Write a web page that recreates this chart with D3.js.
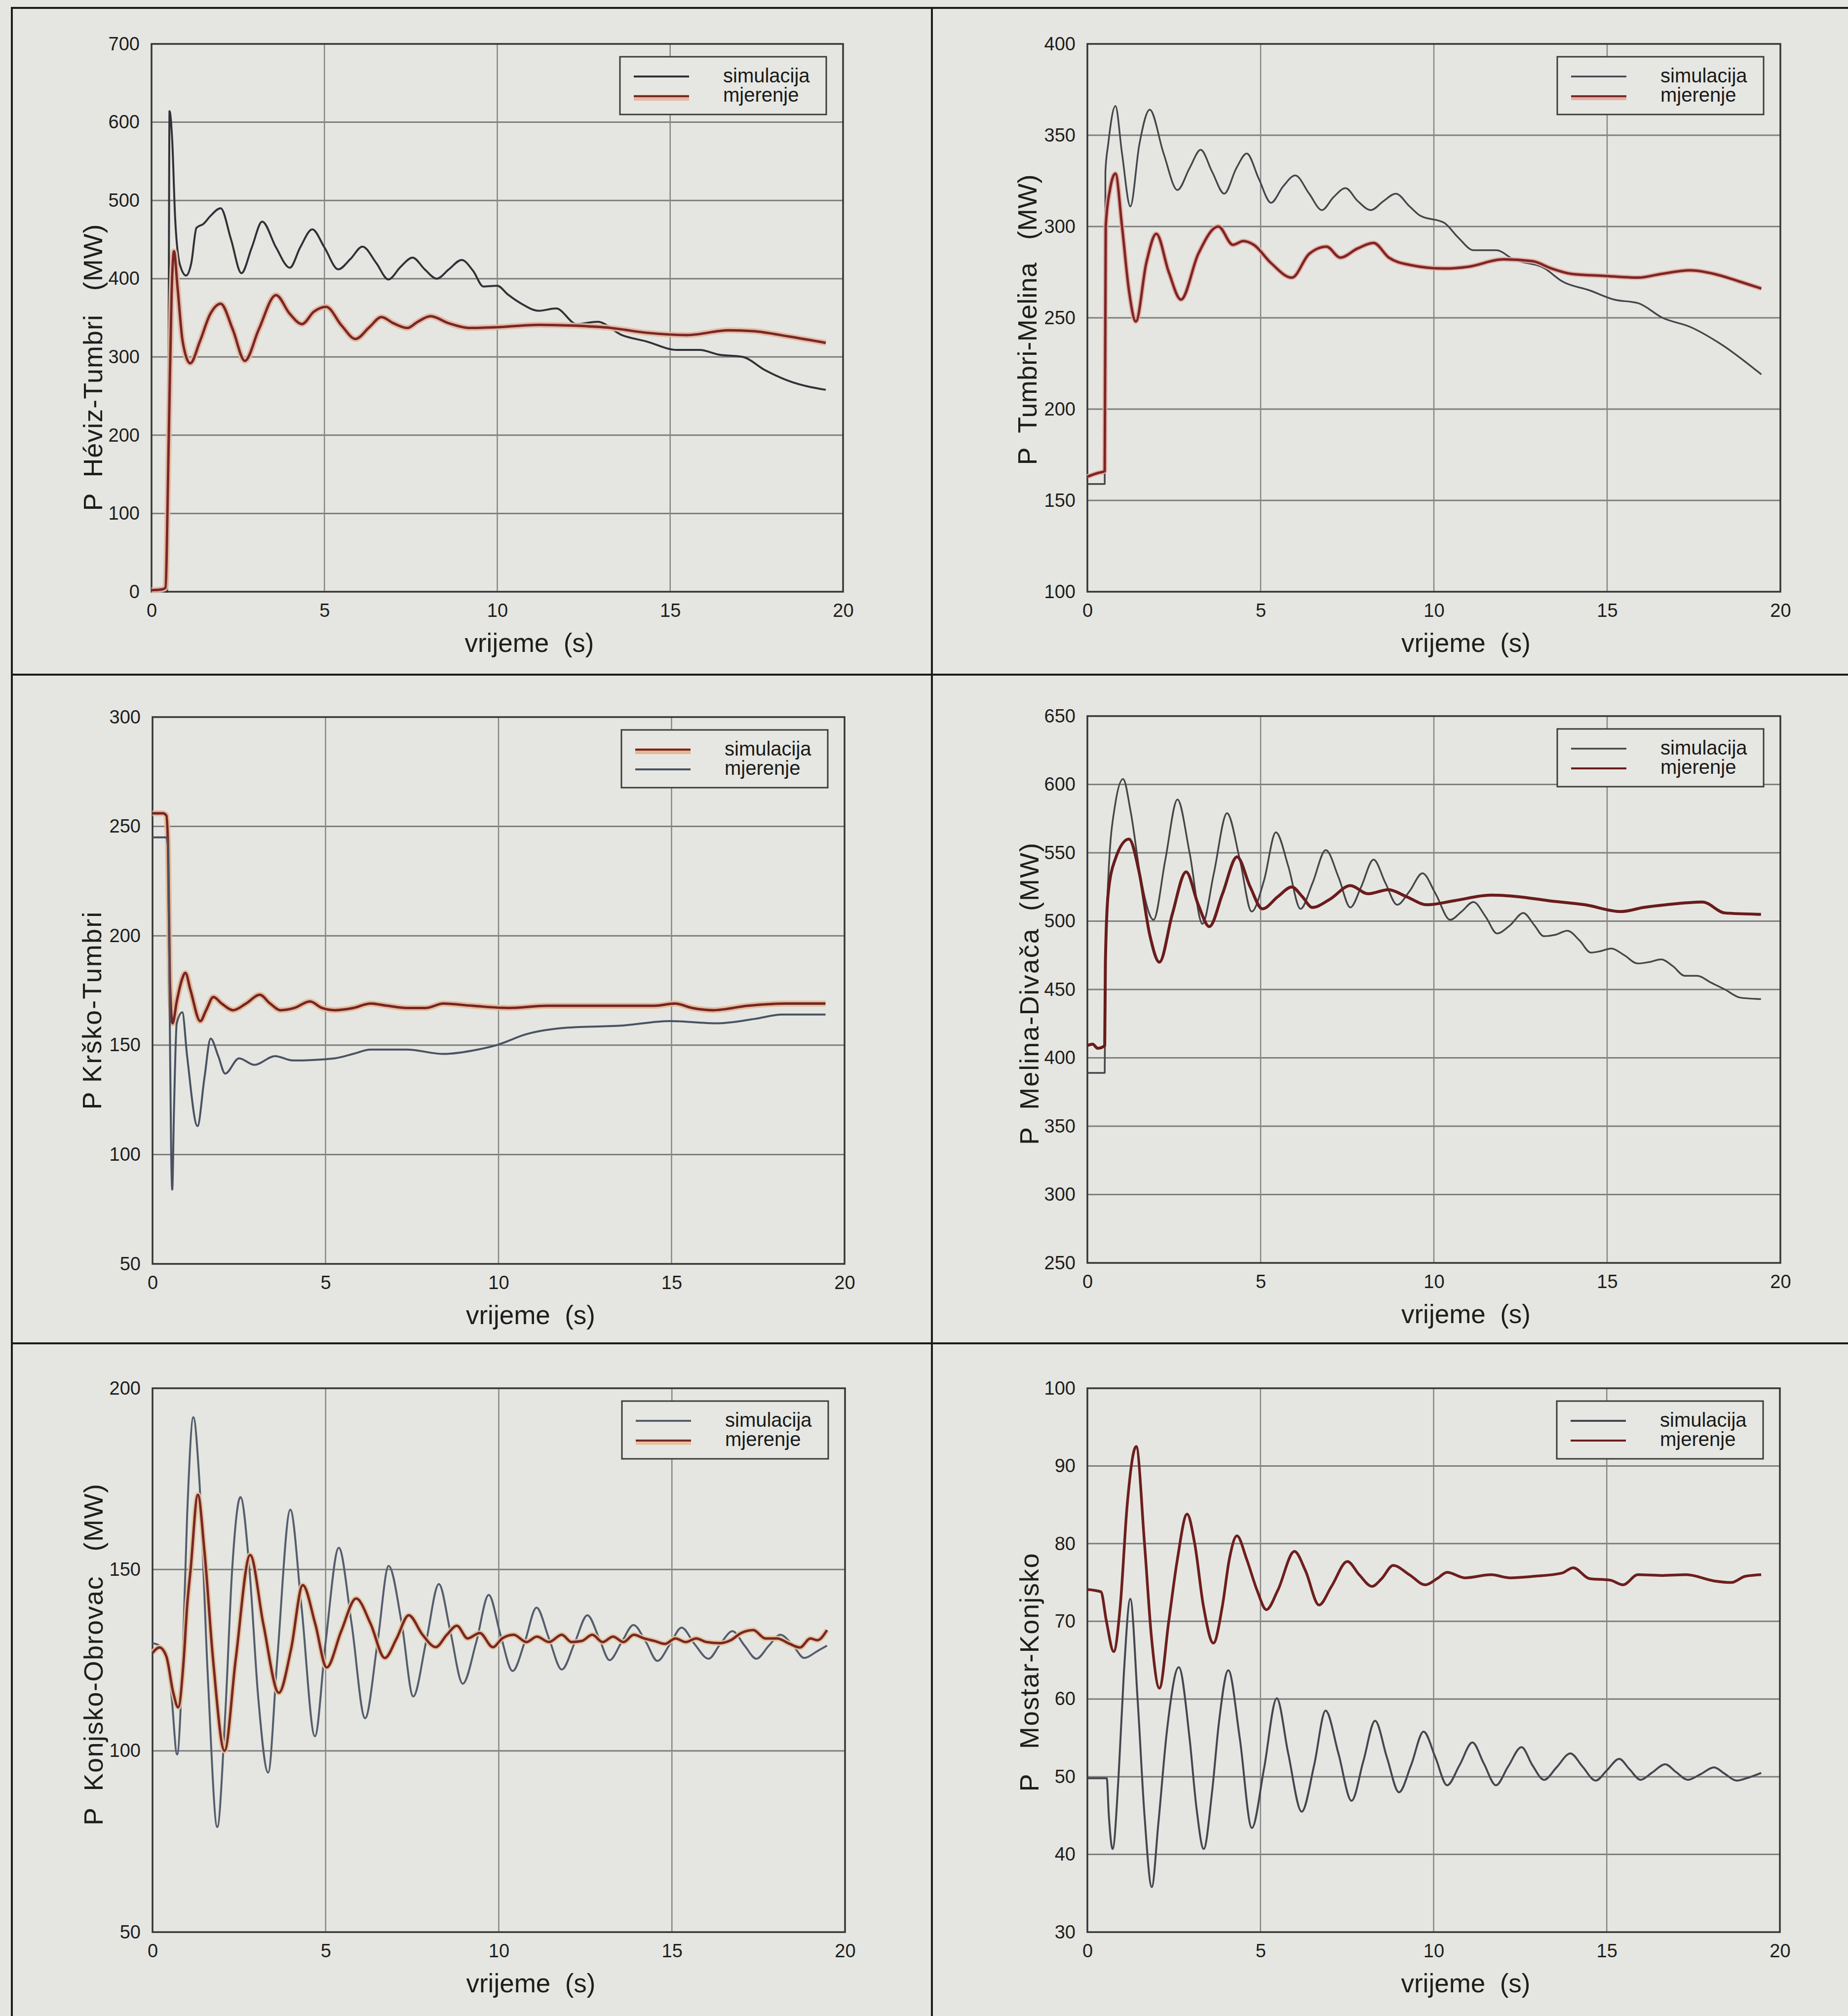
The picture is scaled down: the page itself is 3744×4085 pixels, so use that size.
<!DOCTYPE html>
<html>
<head>
<meta charset="utf-8">
<script src="https://cdn.jsdelivr.net/npm/d3@7"></script>
<style>
  body { margin: 0; background: #e5e6e1; }
  svg { display: block; }
  .tick-label { font-family: "Liberation Sans", Arial, sans-serif; font-size: 38px; fill: #1e1e1e; }
  .ylab { font-family: "Liberation Sans", Arial, sans-serif; font-size: 54px; fill: #1e1e1e; }
  .xlab { font-family: "Liberation Sans", Arial, sans-serif; font-size: 53px; fill: #1e1e1e; }
  .leg { font-family: "Liberation Sans", Arial, sans-serif; font-size: 40px; fill: #1a1a1a; }
</style>
</head>
<body>
<div id="chart"></div>
<script>
// time axis ticks shared by all panels
const timeTicks = [0, 5, 10, 15, 20];

// panel 1: Heviz-Tumbri
const hevizTicks = [0, 100, 200, 300, 400, 500, 600, 700];
const hevizSim = [[0,0],[0.2,2],[0.45,0],[0.5,400],[0.52,614],[0.6,575],[0.68,480],[0.82,418],[1.0,404],[1.15,420],[1.3,465],[1.5,470],[1.7,480],[2.0,490],[2.3,450],[2.6,407],[2.9,440],[3.2,473],[3.6,440],[4.0,414],[4.3,440],[4.65,463],[5.0,440],[5.4,412],[5.75,425],[6.1,441],[6.5,420],[6.85,399],[7.2,415],[7.55,427],[7.9,412],[8.25,400],[8.6,412],[8.97,424],[9.3,410],[9.6,390],[10.0,391],[10.3,380],[10.7,368],[11.2,359],[11.7,362],[12.3,342],[12.9,345],[13.6,328],[14.3,320],[15.2,309],[15.85,309],[16.4,303],[17.1,300],[17.75,283],[18.45,269],[19.5,258]];
const hevizMeas = [[0,2],[0.3,3],[0.4,5],[0.5,200],[0.58,380],[0.65,435],[0.75,390],[0.9,320],[1.12,292],[1.4,320],[1.7,355],[2.0,368],[2.35,335],[2.7,295],[3.1,335],[3.6,379],[4.0,355],[4.35,342],[4.7,358],[5.05,364],[5.5,340],[5.9,323],[6.3,338],[6.65,351],[7.0,343],[7.4,337],[7.7,345],[8.07,352],[8.6,343],[9.2,337],[10.0,338],[11.2,341],[12.2,340],[13.3,337],[14.3,331],[15.5,328],[16.7,334],[17.4,333],[18.45,326],[19.5,318]];

// panel 2: Tumbri-Melina
const tumbriTicks = [100, 150, 200, 250, 300, 350, 400];
const tumbriSim = [[0,159],[0.5,159],[0.52,330],[0.6,345],[0.81,366],[1.0,340],[1.24,311],[1.5,345],[1.8,364],[2.2,340],[2.6,320],[2.95,332],[3.27,342],[3.6,330],[3.95,318],[4.3,332],[4.6,340],[4.95,326],[5.3,313],[5.65,322],[6.0,328],[6.4,318],[6.77,309],[7.1,316],[7.45,321],[7.8,314],[8.18,309],[8.55,314],[8.9,318],[9.3,311],[9.6,306],[10.3,302],[10.7,294],[11.15,287],[11.8,287],[12.3,282],[13.2,277],[13.7,270],[14.5,265],[15.2,260],[15.9,258],[16.6,250],[17.4,245],[18.25,236],[19.45,219]];
const tumbriMeas = [[0,163],[0.3,165],[0.5,166],[0.53,300],[0.65,320],[0.81,329],[1.0,300],[1.2,265],[1.4,248],[1.7,280],[1.99,296],[2.35,275],[2.7,260],[3.2,285],[3.78,300],[4.2,290],[4.5,292],[4.8,290],[5.3,280],[5.9,272],[6.4,285],[6.9,289],[7.3,283],[7.8,288],[8.26,291],[8.7,283],[9.3,279],[10.3,277],[11.0,278],[12.0,282],[12.85,281],[13.4,277],[14.0,274],[14.9,273],[15.9,272],[16.55,274],[17.4,276],[18.1,274],[18.8,270],[19.45,266]];

// panel 3: Krsko-Tumbri
const krskoTicks = [50, 100, 150, 200, 250, 300];
const krskoSim = [[0,256],[0.3,256],[0.4,255],[0.45,240],[0.5,180],[0.58,160],[0.7,170],[0.85,180],[0.95,183],[1.1,175],[1.38,161],[1.55,166],[1.76,172],[2.0,169],[2.33,166],[2.7,169],[3.1,173],[3.4,169],[3.7,166],[4.1,167],[4.55,170],[4.9,167],[5.27,166],[5.8,167],[6.3,169],[6.8,168],[7.35,167],[7.9,167],[8.4,169],[9.25,168],[10.3,167],[11.4,168],[12.4,168],[13.5,168],[14.5,168],[15.1,169],[15.6,167],[16.2,166],[17.2,168],[18.3,169],[19.45,169]];
const krskoMeas = [[0,245],[0.4,245],[0.45,240],[0.5,160],[0.54,100],[0.57,84],[0.62,120],[0.7,160],[0.86,165],[1.0,145],[1.3,113],[1.5,135],[1.68,153],[1.9,145],[2.1,137],[2.5,144],[2.94,141],[3.54,145],[4.06,143],[5.27,144],[5.8,146],[6.3,148],[7.35,148],[8.4,146],[9.4,148],[9.94,150],[10.8,155],[12.0,158],[13.6,159],[14.95,161],[16.3,160],[17.4,162],[18.2,164],[19.45,164]];

// panel 4: Melina-Divaca
const melinaTicks = [250, 300, 350, 400, 450, 500, 550, 600, 650];
const melinaSim = [[0,389],[0.5,389],[0.52,460],[0.6,530],[0.8,585],[1.03,604],[1.25,580],[1.55,530],[1.91,501],[2.25,545],[2.6,589],[2.95,550],[3.32,498],[3.65,535],[4.03,579],[4.4,545],[4.74,507],[5.1,530],[5.44,565],[5.8,540],[6.15,509],[6.5,528],[6.88,552],[7.25,532],[7.59,510],[7.9,525],[8.26,545],[8.6,528],[8.94,512],[9.3,522],[9.67,535],[10.05,520],[10.47,501],[10.8,507],[11.14,514],[11.5,503],[11.82,491],[12.2,497],[12.58,506],[12.9,497],[13.17,489],[13.5,490],[13.85,493],[14.2,486],[14.53,477],[14.8,478],[15.12,480],[15.5,475],[15.88,469],[16.2,470],[16.56,472],[16.9,467],[17.24,460],[17.6,460],[18.0,455],[18.4,450],[18.85,444],[19.44,443]];
const melinaMeas = [[0,409],[0.15,410],[0.3,407],[0.5,409],[0.52,470],[0.6,520],[0.8,545],[1.2,560],[1.5,535],[1.8,490],[2.08,470],[2.45,505],[2.85,536],[3.2,512],[3.52,496],[3.9,520],[4.32,547],[4.7,525],[5.05,509],[5.5,518],[5.9,525],[6.2,518],[6.49,510],[7.0,516],[7.59,526],[8.1,520],[8.69,523],[9.2,518],[9.8,512],[10.6,515],[11.65,519],[12.4,518],[13.3,515],[14.36,512],[15.4,507],[16.05,510],[16.7,512],[17.75,514],[18.4,506],[19.44,505]];

// panel 5: Konjsko-Obrovac
const obrovacTicks = [50, 100, 150, 200];
const obrovacSim = [[0,129.7],[0.2,129],[0.4,127],[0.55,115],[0.71,99],[0.85,120],[1.0,165],[1.18,192],[1.35,175],[1.6,120],[1.87,79],[2.1,110],[2.3,150],[2.54,170],[2.8,150],[3.05,115],[3.34,94],[3.6,125],[3.98,166.5],[4.3,140],[4.69,104],[5.0,130],[5.38,156],[5.75,135],[6.14,109],[6.5,130],[6.82,151],[7.2,135],[7.53,115],[7.9,130],[8.27,146],[8.6,133],[8.96,118.5],[9.35,130],[9.71,143],[10.05,132],[10.4,122],[10.75,130],[11.09,139.5],[11.45,131],[11.82,122.4],[12.2,130],[12.56,137.4],[12.9,131],[13.2,125],[13.55,130],[13.89,134.7],[14.25,130],[14.58,124.8],[14.95,129.5],[15.28,134],[15.65,129.5],[16.06,125.4],[16.4,129.5],[16.75,133],[17.1,129],[17.44,125.4],[17.8,129],[18.13,132],[18.5,129],[18.82,125.6],[19.2,127.5],[19.48,129]];
const obrovacMeas = [[0,127],[0.2,128.5],[0.4,126],[0.6,116],[0.74,112],[0.9,125],[1.0,140],[1.1,150],[1.31,170.6],[1.5,155],[1.75,125],[2.08,100],[2.4,125],[2.82,154],[3.2,135],[3.65,116],[4.0,128],[4.34,145.7],[4.7,135],[5.03,123],[5.45,133],[5.88,142],[6.3,135],[6.71,125.6],[7.05,131],[7.4,137.4],[7.8,132],[8.18,128.6],[8.5,132],[8.79,134.5],[9.1,131],[9.45,132.5],[9.83,128.6],[10.1,131],[10.43,132],[10.8,130],[11.1,131.5],[11.45,130],[11.82,132],[12.1,130],[12.4,130.3],[12.7,132],[13.0,130],[13.3,131.5],[13.6,130],[13.9,132],[14.2,131],[14.5,130.3],[14.8,129.5],[15.1,131],[15.4,130],[15.7,131],[16.0,130],[16.4,129.7],[16.7,130.5],[17.0,132.5],[17.35,133.3],[17.7,131],[18.04,131],[18.4,129.5],[18.7,128.5],[19.0,131],[19.2,130.5],[19.48,133.3]];

// panel 6: Mostar-Konjsko
const mostarTicks = [30, 40, 50, 60, 70, 80, 90, 100];
const mostarSim = [[0,49.8],[0.56,49.8],[0.62,45],[0.73,40.7],[0.9,50],[1.05,63],[1.24,72.9],[1.45,60],[1.65,45],[1.86,35.8],[2.05,44],[2.3,56],[2.64,64.1],[2.95,55],[3.15,46],[3.36,40.7],[3.6,48],[3.8,57],[4.07,63.7],[4.4,55],[4.75,43.4],[5.1,51],[5.47,60.1],[5.8,53],[6.19,45.5],[6.55,51.5],[6.88,58.5],[7.25,53],[7.63,46.9],[7.97,52],[8.31,57.2],[8.65,52.5],[9.0,48],[9.35,51.5],[9.71,55.8],[10.05,52.5],[10.39,48.9],[10.75,51.5],[11.12,54.4],[11.45,51.7],[11.8,48.9],[12.15,51.3],[12.54,53.8],[12.85,51.5],[13.19,49.6],[13.55,51.2],[13.95,53],[14.3,51.3],[14.68,49.5],[15.0,50.8],[15.36,52.3],[15.65,51],[15.98,49.6],[16.3,50.5],[16.69,51.6],[17.0,50.6],[17.34,49.6],[17.7,50.3],[18.1,51.2],[18.4,50.4],[18.75,49.5],[19.1,49.9],[19.46,50.5]];
const mostarMeas = [[0,74.1],[0.39,73.8],[0.55,70],[0.76,66.1],[0.95,72],[1.15,85],[1.41,92.5],[1.65,80],[1.85,68],[2.08,61.4],[2.35,70],[2.6,78],[2.88,83.8],[3.1,80],[3.35,72],[3.64,67.2],[3.9,72],[4.1,78],[4.32,81],[4.6,78],[4.9,74],[5.17,71.5],[5.5,74],[5.98,79],[6.3,76.5],[6.69,72.1],[7.05,74.5],[7.51,77.7],[7.85,76],[8.22,74.5],[8.5,75.5],[8.83,77.2],[9.3,76],[9.76,74.7],[10.1,75.5],[10.39,76.3],[10.9,75.6],[11.66,76],[12.2,75.6],[12.9,75.8],[13.7,76.2],[14.03,76.9],[14.5,75.5],[15.1,75.3],[15.47,74.7],[15.9,76],[16.6,75.9],[17.3,76],[18.1,75.2],[18.6,75],[19.0,75.8],[19.46,76]];

const legendLabels = ["simulacija", "mjerenje"];

// line styles
const redHalo = { color: "#7a2626", width: 5, halo: "#e3b8a0", haloWidth: 12 };
const redPlain = { color: "#6a1c1c", width: 6 };

const panels = [
  { ticks: hevizTicks, sim: hevizSim, meas: hevizMeas, left: 307, top: 89, w: 1401, h: 1110,
    label: "P  Héviz-Tumbri   (MW)", labX: 207, labY: 745, labLen: 581,
    simStyle: { color: "#303238", width: 4 }, measStyle: redHalo },
  { ticks: tumbriTicks, sim: tumbriSim, meas: tumbriMeas, left: 2203, top: 89, w: 1404, h: 1110,
    label: "P  Tumbri-Melina   (MW)", labX: 2100, labY: 648, labLen: 589,
    simStyle: { color: "#45464c", width: 3.5 }, measStyle: { color: "#7c2626", width: 5, halo: "#e6aca2", haloWidth: 10 } },
  { ticks: krskoTicks, sim: krskoSim, meas: krskoMeas, left: 309, top: 1453, w: 1402, h: 1108,
    label: "P Krško-Tumbri", labX: 205, labY: 2048, labLen: 401,
    simStyle: { color: "#762424", width: 5, halo: "#e3b894", haloWidth: 12 }, measStyle: { color: "#4a5263", width: 4 } },
  { ticks: melinaTicks, sim: melinaSim, meas: melinaMeas, left: 2203, top: 1451, w: 1404, h: 1108,
    label: "P  Melina-Divača  (MW)", labX: 2104, labY: 2014, labLen: 612,
    simStyle: { color: "#46464a", width: 3.5 }, measStyle: redPlain },
  { ticks: obrovacTicks, sim: obrovacSim, meas: obrovacMeas, left: 309, top: 2813, w: 1403, h: 1102,
    label: "P  Konjsko-Obrovac   (MW)", labX: 208, labY: 3353, labLen: 692,
    simStyle: { color: "#555d6d", width: 4 }, measStyle: { color: "#7a2626", width: 5, halo: "#e2c49a", haloWidth: 11 } },
  { ticks: mostarTicks, sim: mostarSim, meas: mostarMeas, left: 2203, top: 2813, w: 1403, h: 1102,
    label: "P   Mostar-Konjsko", labX: 2104, labY: 3389, labLen: 483,
    simStyle: { color: "#44474f", width: 4 }, measStyle: { color: "#6e1e1e", width: 5.5 } },
];

const svg = d3.select("#chart").append("svg")
  .attr("width", 3744).attr("height", 4085);

svg.append("rect").attr("width", 3744).attr("height", 4085).attr("fill", "#e5e6e1");

// page frame lines
const frame = svg.append("g").attr("stroke", "#1c1c1c").attr("stroke-width", 4);
frame.append("line").attr("x1", 22).attr("x2", 3744).attr("y1", 16).attr("y2", 16);
frame.append("line").attr("x1", 24).attr("x2", 24).attr("y1", 16).attr("y2", 4085);
frame.append("line").attr("x1", 1888).attr("x2", 1888).attr("y1", 16).attr("y2", 4085);
frame.append("line").attr("x1", 22).attr("x2", 3744).attr("y1", 1367).attr("y2", 1367);
frame.append("line").attr("x1", 22).attr("x2", 3744).attr("y1", 2722).attr("y2", 2722);

function drawLine(g, data, x, y, style) {
  const line = d3.line().x((d) => x(d[0])).y((d) => y(d[1])).curve(d3.curveMonotoneX);
  if (style.halo) {
    g.append("path").datum(data).attr("d", line).attr("fill", "none")
      .attr("stroke", style.halo).attr("stroke-width", style.haloWidth)
      .attr("stroke-linejoin", "round").attr("opacity", 0.9);
  }
  g.append("path").datum(data).attr("d", line).attr("fill", "none")
    .attr("stroke", style.color).attr("stroke-width", style.width)
    .attr("stroke-linejoin", "round");
}

function legendSwatch(g, x1, x2, yy, style) {
  if (style.halo) {
    g.append("line").attr("x1", x1).attr("x2", x2).attr("y1", yy + 3).attr("y2", yy + 3)
      .attr("stroke", style.halo).attr("stroke-width", style.haloWidth);
  }
  g.append("line").attr("x1", x1).attr("x2", x2).attr("y1", yy).attr("y2", yy)
    .attr("stroke", style.color).attr("stroke-width", Math.min(4, style.width));
}

panels.forEach((p) => {
  const x = d3.scaleLinear().domain([0, 20]).range([p.left, p.left + p.w]);
  const y = d3.scaleLinear().domain(d3.extent(p.ticks)).range([p.top + p.h, p.top]);
  const g = svg.append("g");

  // grid
  g.selectAll(".hg").data(p.ticks.slice(1, -1)).enter().append("line")
    .attr("x1", p.left).attr("x2", p.left + p.w)
    .attr("y1", (d) => y(d)).attr("y2", (d) => y(d))
    .attr("stroke", "#7e7e7e").attr("stroke-width", 3);
  g.selectAll(".vg").data(timeTicks.slice(1, -1)).enter().append("line")
    .attr("x1", (d) => x(d)).attr("x2", (d) => x(d))
    .attr("y1", p.top).attr("y2", p.top + p.h)
    .attr("stroke", "#868686").attr("stroke-width", 2.5);

  // plot frame
  g.append("rect").attr("x", p.left).attr("y", p.top).attr("width", p.w).attr("height", p.h)
    .attr("fill", "none").attr("stroke", "#363636").attr("stroke-width", 3.5);

  // axes via d3 axis generators, restyled
  const ya = g.append("g").attr("transform", "translate(" + p.left + ",0)")
    .call(d3.axisLeft(y).tickValues(p.ticks).tickSize(0).tickPadding(24));
  const xa = g.append("g").attr("transform", "translate(0," + (p.top + p.h) + ")")
    .call(d3.axisBottom(x).tickValues(timeTicks).tickSize(0).tickPadding(24));
  [ya, xa].forEach((a) => {
    a.select(".domain").remove();
    a.selectAll("text").attr("class", "tick-label").attr("font-family", null).attr("font-size", null);
  });
  xa.selectAll("text").attr("dy", "0.72em");

  // series
  drawLine(g, p.sim, x, y, p.simStyle);
  drawLine(g, p.meas, x, y, p.measStyle);

  // axis titles
  g.append("text").attr("class", "ylab")
    .attr("transform", "translate(" + p.labX + "," + p.labY + ") rotate(-90)")
    .attr("text-anchor", "middle")
    .attr("textLength", p.labLen).attr("lengthAdjust", "spacing")
    .style("white-space", "pre")
    .text(p.label);
  g.append("text").attr("class", "xlab")
    .attr("x", p.left + p.w / 2 + 65).attr("y", p.top + p.h + 122)
    .attr("text-anchor", "middle").style("white-space", "pre")
    .text("vrijeme  (s)");

  // legend
  const lx = p.left + p.w - 452, ly = p.top + 26;
  const lg = g.append("g");
  lg.append("rect").attr("x", lx).attr("y", ly).attr("width", 418).attr("height", 117)
    .attr("fill", "#e6e7e2").attr("stroke", "#3c3c3c").attr("stroke-width", 3);
  legendSwatch(lg, lx + 28, lx + 140, ly + 40, p.simStyle);
  legendSwatch(lg, lx + 28, lx + 140, ly + 80, p.measStyle);
  lg.selectAll("text").data(legendLabels).enter().append("text").attr("class", "leg")
    .attr("x", lx + 209).attr("y", (d, i) => ly + 52 + i * 39).text((d) => d);
});
</script>
</body>
</html>
